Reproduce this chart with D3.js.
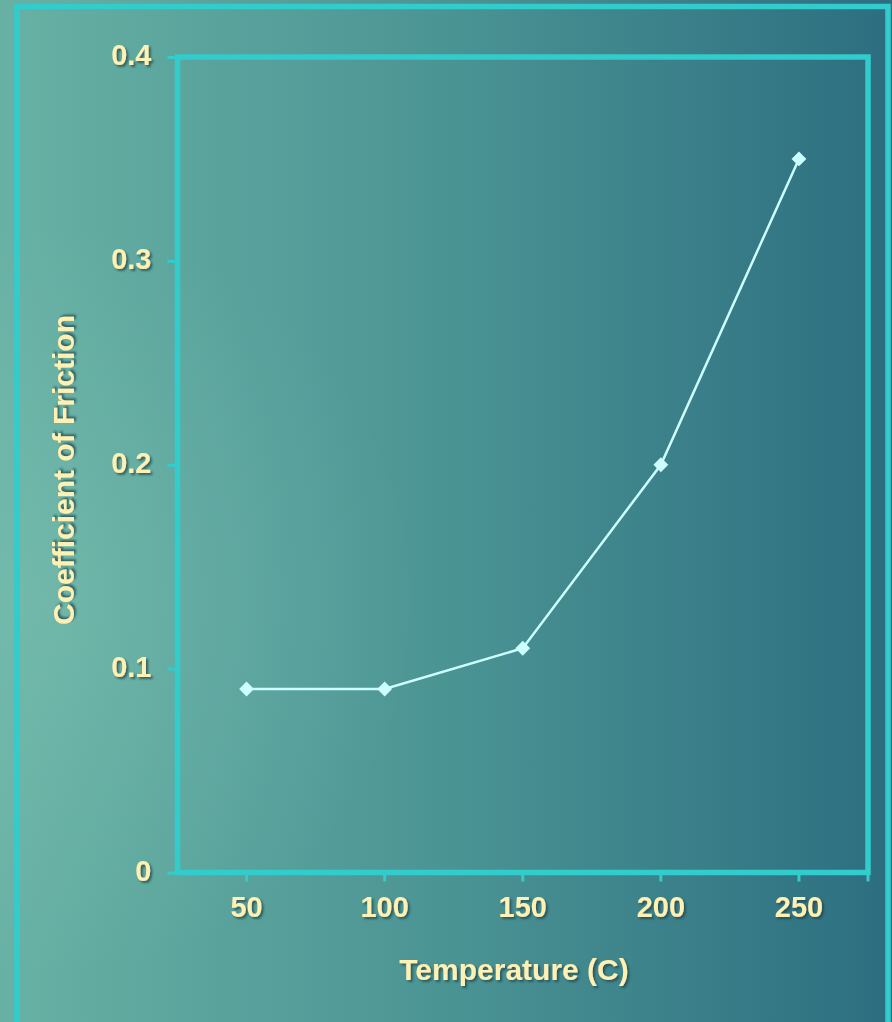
<!DOCTYPE html>
<html>
<head>
<meta charset="utf-8">
<script src="https://cdn.jsdelivr.net/npm/d3@7"></script>
<style>
  html, body { margin: 0; padding: 0; background: #2c6e80; }
  svg { display: block; }
  text { font-family: "Liberation Sans", Arial, sans-serif; font-weight: bold; }
</style>
</head>
<body>
<svg id="chart" width="892" height="1022"></svg>
<script>
// data
const temperatures = ['50', '100', '150', '200', '250'];
const friction = [0.09, 0.09, 0.11, 0.2, 0.35];
const yTicks = [0, 0.1, 0.2, 0.3, 0.4];

const FRAME = '#33cccc';
const INK = '#fff0b4';
const LINE = '#ccffff';

const svg = d3.select('#chart');
const W = 892, H = 1022;
const plot = { left: 177.5, right: 868, top: 57, bottom: 872.5 };

const defs = svg.append('defs');
// left-to-right fade, light teal to dark blue-teal
const bg = defs.append('linearGradient')
    .attr('id', 'bg')
    .attr('gradientUnits', 'userSpaceOnUse')
    .attr('x1', 0).attr('y1', 500).attr('x2', 892).attr('y2', 500);
bg.append('stop').attr('offset', 0).attr('stop-color', '#68b1a4');
bg.append('stop').attr('offset', 0.5).attr('stop-color', '#4b9494');
bg.append('stop').attr('offset', 1).attr('stop-color', '#2c6e80');

// soft highlight near the left middle
const glow = defs.append('radialGradient')
    .attr('id', 'glow')
    .attr('gradientUnits', 'userSpaceOnUse')
    .attr('cx', 40).attr('cy', 600).attr('r', 380);
glow.append('stop').attr('offset', 0).attr('stop-color', '#9fe0c8').attr('stop-opacity', 0.2);
glow.append('stop').attr('offset', 1).attr('stop-color', '#9fe0c8').attr('stop-opacity', 0);

const shadow = defs.append('filter').attr('id', 'shadow')
    .attr('x', '-10%').attr('y', '-20%').attr('width', '130%').attr('height', '150%');
shadow.append('feDropShadow')
    .attr('dx', 2).attr('dy', 2).attr('stdDeviation', 1)
    .attr('flood-color', '#1a3f44').attr('flood-opacity', 0.7);

svg.append('rect').attr('width', W).attr('height', H).attr('fill', 'url(#bg)');
svg.append('rect').attr('width', W).attr('height', H).attr('fill', 'url(#glow)');

// outer slide frame, open at the bottom
svg.append('rect')
    .attr('x', 17).attr('y', 6.5)
    .attr('width', 871).attr('height', 1100)
    .attr('fill', 'none').attr('stroke', FRAME).attr('stroke-width', 5.5);

const x = d3.scaleBand().domain(temperatures).range([plot.left, plot.right]);
const y = d3.scaleLinear().domain([0, 0.4]).range([plot.bottom, plot.top]);

// plot area box
svg.append('rect')
    .attr('x', plot.left).attr('y', plot.top)
    .attr('width', plot.right - plot.left).attr('height', plot.bottom - plot.top)
    .attr('fill', 'none').attr('stroke', FRAME).attr('stroke-width', 5.5);

// y axis
const yAxis = svg.append('g')
    .attr('transform', `translate(${plot.left},0)`)
    .call(d3.axisLeft(y).tickValues(yTicks).tickSize(10).tickPadding(16)
        .tickFormat(d => d === 0 ? '0' : d3.format('.1f')(d)));
yAxis.select('.domain').remove();
yAxis.selectAll('line').attr('stroke', FRAME).attr('stroke-width', 3);
yAxis.selectAll('text')
    .attr('fill', INK).attr('font-size', 29)
    .attr('dy', '0.26em')
    .attr('filter', 'url(#shadow)');

// x axis, ticks on category centres plus one at the end
const xAxis = svg.append('g')
    .attr('transform', `translate(0,${plot.bottom})`)
    .call(d3.axisBottom(x).tickSize(9).tickPadding(15));
xAxis.select('.domain').remove();
xAxis.selectAll('line').attr('stroke', FRAME).attr('stroke-width', 3);
xAxis.selectAll('text')
    .attr('fill', INK).attr('font-size', 29)
    .attr('filter', 'url(#shadow)');
xAxis.append('line')
    .attr('x1', plot.right).attr('x2', plot.right)
    .attr('y1', 0).attr('y2', 9)
    .attr('stroke', FRAME).attr('stroke-width', 3);

// series
const pts = temperatures.map((t, i) => ({ t: t, v: friction[i] }));
const cx = d => x(d.t) + x.bandwidth() / 2;

svg.append('path')
    .datum(pts)
    .attr('fill', 'none').attr('stroke', LINE).attr('stroke-width', 2.5)
    .attr('d', d3.line().x(cx).y(d => y(d.v)));

svg.selectAll('.marker')
    .data(pts)
    .join('path')
    .attr('class', 'marker')
    .attr('d', d3.symbol(d3.symbolSquare, 110))
    .attr('fill', LINE)
    .attr('transform', d => `translate(${cx(d)},${y(d.v)}) rotate(45)`);

// axis titles
svg.append('text')
    .attr('x', 514).attr('y', 980)
    .attr('text-anchor', 'middle')
    .attr('fill', INK).attr('font-size', 30)
    .attr('filter', 'url(#shadow)')
    .text('Temperature (C)');

svg.append('text')
    .attr('transform', 'translate(74,470) rotate(-90)')
    .attr('text-anchor', 'middle')
    .attr('fill', INK).attr('font-size', 30)
    .attr('filter', 'url(#shadow)')
    .text('Coefficient of Friction');
</script>
</body>
</html>
